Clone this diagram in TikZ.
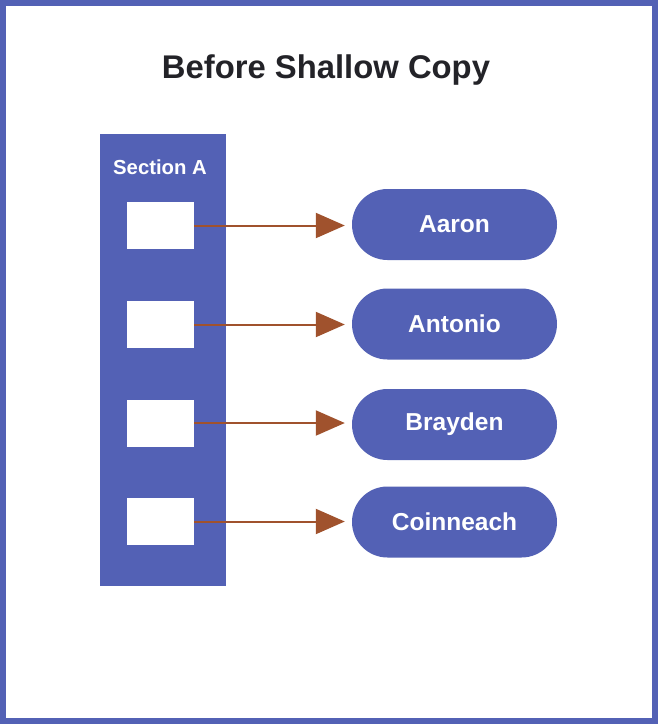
\documentclass[tikz,border=0pt]{standalone}
\usepackage{fontspec}
\setmainfont{Liberation Sans}
\usetikzlibrary{arrows.meta}
\definecolor{bluefill}{RGB}{83,97,181}
\definecolor{arrowc}{RGB}{160,82,45}
\definecolor{titlec}{RGB}{35,35,40}
\tikzset{
  pill/.style={fill=bluefill, rounded corners=35.5pt, minimum width=205pt, minimum height=71pt, inner sep=0pt, text=white, font=\bfseries\fontsize{24.5}{28}\selectfont},
  slot/.style={fill=white, minimum width=67pt, minimum height=47pt, inner sep=0pt},
  link/.style={draw=arrowc, line width=2pt, -{Triangle[length=29pt,width=25pt]}, shorten >=7pt}
}
\begin{document}
\begin{tikzpicture}[x=1pt,y=-1pt]
\useasboundingbox (0,0) rectangle (658,724);
\fill[white] (0,0) rectangle (658,724);
\draw[bluefill, line width=6pt] (3,3) rectangle (655,721);
\node[text=titlec, font=\bfseries\fontsize{32.8}{38}\selectfont] (title) at (326,70) {Before Shallow Copy};
\fill[bluefill] (100,134) rectangle (226,586);
\node[text=white, font=\bfseries\fontsize{20.3}{24}\selectfont] (sec) at (160,167) {Section A};
\node[slot] (s1) at (160.5,225.5) {};
\node[slot] (s2) at (160.5,324.5) {};
\node[slot] (s3) at (160.5,423) {};
\node[slot] (s4) at (160.5,521.5) {};
\node[pill] (p1) at (454.5,224.5) {Aaron};
\node[pill] (p2) at (454.5,324) {Antonio};
\node[pill] (p3) at (454.5,424.5) {Brayden};
\node[pill] (p4) at (454.5,522) {Coinneach};
\draw[link] (s1.east) -- (s1.east -| p1.west);
\draw[link] (s2.east) -- (s2.east -| p2.west);
\draw[link] (s3.east) -- (s3.east -| p3.west);
\draw[link] (s4.east) -- (s4.east -| p4.west);
\end{tikzpicture}
\end{document}
